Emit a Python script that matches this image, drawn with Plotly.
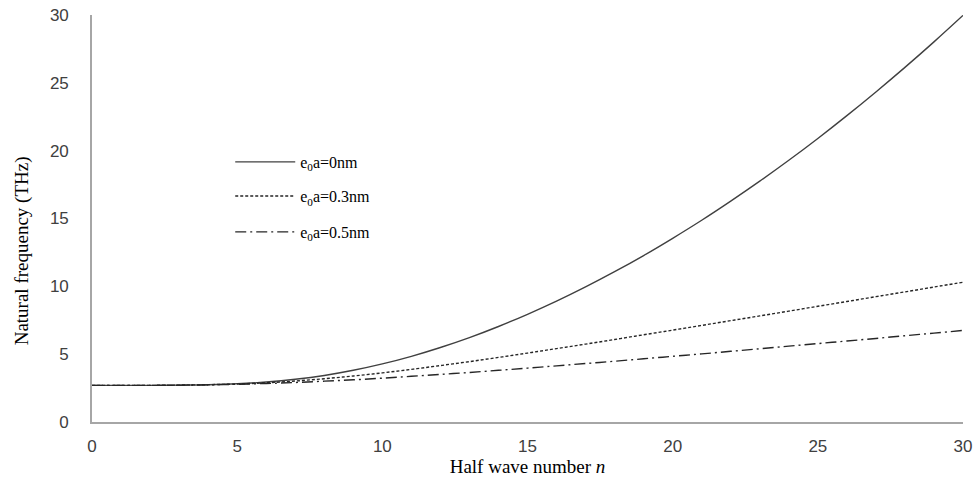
import plotly.graph_objects as go

n = list(range(0, 31))

f_0nm = [2.70, 2.70, 2.70, 2.72, 2.75, 2.82, 2.95, 3.15, 3.43, 3.81, 4.28,
         4.84, 5.49, 6.22, 7.04, 7.94, 8.91, 9.96, 11.08, 12.27, 13.54,
         14.87, 16.28, 17.75, 19.29, 20.90, 22.58, 24.33, 26.14, 28.02, 29.97]
f_03nm = [2.70, 2.70, 2.70, 2.72, 2.75, 2.80, 2.89, 3.02, 3.19, 3.39, 3.62,
          3.88, 4.16, 4.45, 4.76, 5.08, 5.41, 5.74, 6.08, 6.43, 6.77,
          7.12, 7.47, 7.82, 8.17, 8.53, 8.88, 9.24, 9.59, 9.95, 10.30]
f_05nm = [2.70, 2.70, 2.70, 2.71, 2.74, 2.78, 2.84, 2.91, 3.01, 3.11, 3.23,
          3.37, 3.51, 3.65, 3.81, 3.97, 4.14, 4.31, 4.48, 4.66, 4.84,
          5.02, 5.21, 5.40, 5.59, 5.78, 5.97, 6.16, 6.36, 6.55, 6.75]

labels = ["e<sub>0</sub>a=0nm", "e<sub>0</sub>a=0.3nm", "e<sub>0</sub>a=0.5nm"]
x_ticks = [0, 5, 10, 15, 20, 25, 30]
y_ticks = [0, 5, 10, 15, 20, 25, 30]
x_title = "Half wave number <i>n</i>"
y_title = "Natural frequency (THz)"

serif = "Liberation Serif, Times New Roman, serif"
sans = "Liberation Sans, Arial, sans-serif"

fig = go.Figure()
fig.add_trace(go.Scatter(x=n, y=f_0nm, mode="lines", name=labels[0],
                         line=dict(color="#404040", width=1.4, dash="solid", shape="spline"),
                         legend="legend"))
fig.add_trace(go.Scatter(x=n, y=f_03nm, mode="lines", name=labels[1],
                         line=dict(color="#262626", width=1.4, dash="3px,2px", shape="spline"),
                         legend="legend2"))
fig.add_trace(go.Scatter(x=n, y=f_05nm, mode="lines", name=labels[2],
                         line=dict(color="#262626", width=1.4, dash="11px,4px,2px,4px", shape="spline"),
                         legend="legend3"))

leg_common = dict(x=0.1587, xanchor="left", yanchor="middle", bgcolor="rgba(0,0,0,0)",
                  font=dict(family=serif, size=16, color="#000000"), itemwidth=60)

fig.update_layout(
    width=976, height=486,
    margin=dict(l=92, r=13, t=15, b=64),
    plot_bgcolor="white", paper_bgcolor="white",
    showlegend=True,
    legend=dict(y=0.639, **leg_common),
    legend2=dict(y=0.555, **leg_common),
    legend3=dict(y=0.467, **leg_common),
    xaxis=dict(range=[0, 30], tickvals=x_ticks, showgrid=False, zeroline=False,
               automargin=False,
               showline=True, linecolor="#a6a6a6", linewidth=1.6, ticks="",
               ticklabelstandoff=8,
               tickfont=dict(family=sans, size=17, color="#404040"),
               title=dict(text=x_title, standoff=2,
                          font=dict(family=serif, size=19, color="#000000"))),
    yaxis=dict(range=[0, 30], tickvals=y_ticks, showgrid=False, zeroline=False,
               automargin=False,
               showline=True, linecolor="#a6a6a6", linewidth=1.6, ticks="",
               ticklabelstandoff=18,
               tickfont=dict(family=sans, size=17, color="#404040"),
               title=dict(text="")),
    annotations=[dict(text=y_title, xref="paper", yref="paper",
                      x=-0.08, y=(422 - 251) / 407, xanchor="center", yanchor="middle",
                      textangle=-90, showarrow=False,
                      font=dict(family=serif, size=19, color="#000000"))],
)

# remove the default page margin so the figure sits at the window's top-left corner
fig.write_html("out.html", config={"displayModeBar": False},
               post_script="document.body.style.margin='0';")
